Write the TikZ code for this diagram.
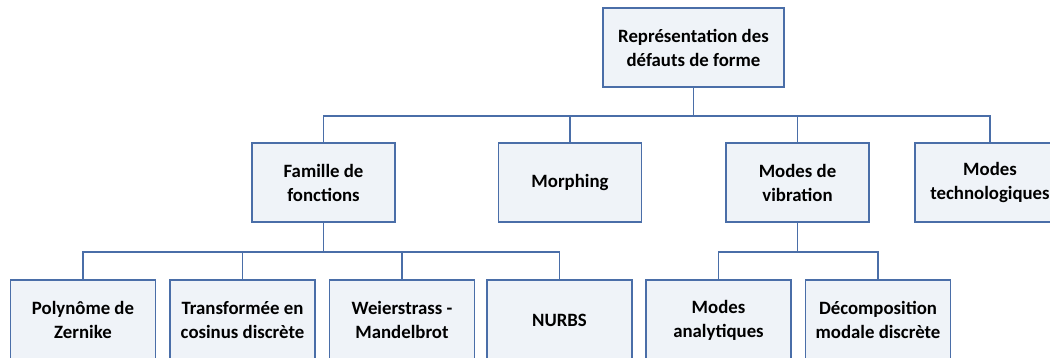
\documentclass[tikz,border=0pt]{standalone}
\usepackage{fontspec}
\setmainfont{Carlito}
\usepackage{tikz}
\usetikzlibrary{positioning, arrows.meta, calc}

\definecolor{boxfill}{RGB}{239,243,248}
\definecolor{boxedge}{RGB}{74,110,168}

\tikzset{
  bloc/.style={draw=boxedge, fill=boxfill, line width=1.4pt, align=center,
    minimum width=145pt, minimum height=80pt, inner sep=2pt,
    font=\fontsize{18.8}{24}\selectfont\bfseries},
  lien/.style={draw=boxedge, line width=1.3pt}
}

\begin{document}
\begin{tikzpicture}[x=1pt, y=-1pt]
\useasboundingbox (0,0) rectangle (1050,358);
\clip (0,0) rectangle (1050,358);

% racine
\node[bloc, minimum width=181pt, minimum height=79pt] (racine) at (693.5,47.5) {Repr\'esentation des\\d\'efauts de forme};

% niveau 1
\node[bloc, minimum width=143pt, minimum height=79pt] (famille) at (323.5,182.5) {Famille de\\fonctions};
\node[bloc, minimum width=143pt, minimum height=79pt] (morphing) at (570,182.5) {Morphing};
\node[bloc, minimum width=143pt, minimum height=79pt] (vibration) at (797.5,182.5) {Modes de\\vibration};
\node[bloc, minimum width=150pt, minimum height=79pt] (techno) at (990,182.5) {Modes\\technologiques};

% niveau 2
\node[bloc] (zernike) at (83,320) {Polyn\^ome de\\Zernike};
\node[bloc] (cosinus) at (242.5,320) {Transform\'ee en\\cosinus discr\`ete};
\node[bloc] (weier) at (402,320) {Weierstrass -\\Mandelbrot};
\node[bloc] (nurbs) at (559.5,320) {NURBS};
\node[bloc] (analytique) at (718.5,320) {Modes\\analytiques};
\node[bloc] (modale) at (878,320) {D\'ecomposition\\modale discr\`ete};

% bus
\coordinate (busA) at (0,116);
\coordinate (busB) at (0,252);

\foreach \f in {famille, morphing, vibration, techno}
  \draw[lien] (racine.south) |- (\f.north |- busA) -- (\f.north);
\foreach \f in {zernike, cosinus, weier, nurbs}
  \draw[lien] (famille.south) |- (\f.north |- busB) -- (\f.north);
\foreach \f in {analytique, modale}
  \draw[lien] (vibration.south) |- (\f.north |- busB) -- (\f.north);
\end{tikzpicture}
\end{document}
